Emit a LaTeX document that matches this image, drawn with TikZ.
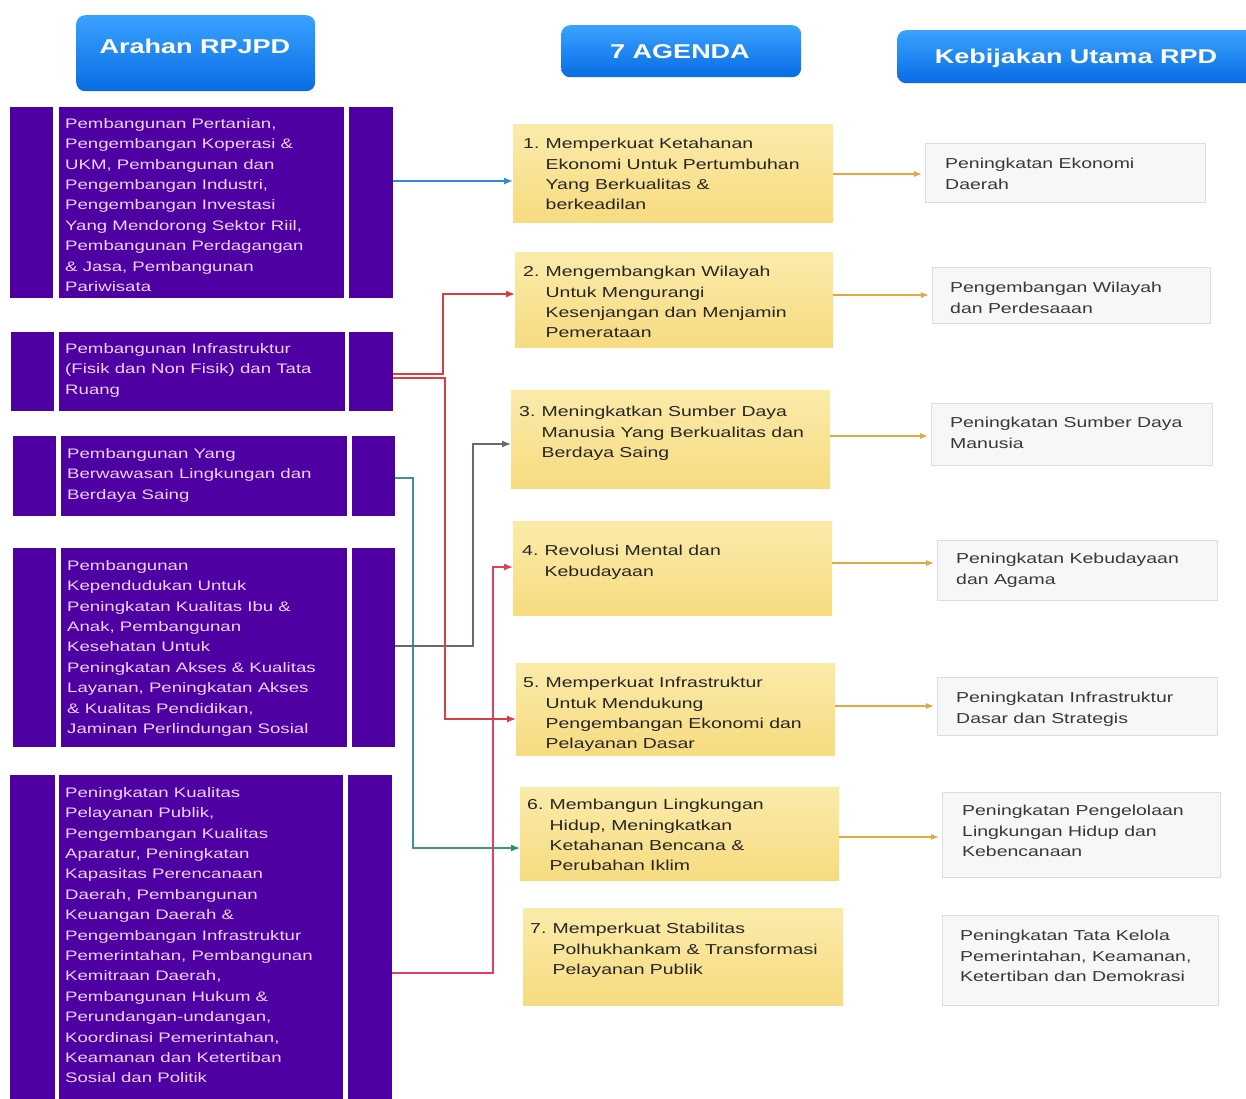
\documentclass[tikz,border=0pt]{standalone}
\usepackage{fontspec}
\setmainfont{Liberation Sans}[FakeStretch=1.35]
\usepackage{xcolor}
\usetikzlibrary{arrows.meta}
\usetikzlibrary{math}
\definecolor{hdtop}{RGB}{58,162,255}
\definecolor{hdbot}{RGB}{8,108,228}
\definecolor{purp}{RGB}{78,0,162}
\definecolor{lav}{RGB}{238,210,255}
\definecolor{agtop}{RGB}{251,235,170}
\definecolor{agbot}{RGB}{246,219,128}
\definecolor{rfill}{RGB}{245,247,249}
\definecolor{rline}{RGB}{218,222,226}
\definecolor{lnblue}{RGB}{45,140,220}
\definecolor{lnred}{RGB}{214,64,64}
\definecolor{lngray}{RGB}{105,105,115}
\definecolor{lnteal}{RGB}{60,150,140}
\definecolor{lngreen}{RGB}{35,150,95}
\definecolor{lnpink}{RGB}{226,62,96}
\definecolor{lnorange}{RGB}{228,168,64}
\newcommand\agno[1]{\makebox[22.5pt][l]{#1}}

\begin{document}
\begin{tikzpicture}[x=1pt,y=-1pt,
  header/.style={anchor=north west,inner sep=0pt,rounded corners=9pt,top color=hdtop,bottom color=hdbot},
  headtext/.style={anchor=base,inner sep=0pt,text=white,font=\fontsize{20}{24}\selectfont\bfseries},
  pbar/.style={anchor=north west,inner sep=0pt,fill=purp},
  ptext/.style={anchor=north west,inner sep=0pt,align=left,text=lav,font=\fontsize{13.8}{20.4}\selectfont},
  agbox/.style={anchor=north west,inner sep=0pt,top color=agtop,bottom color=agbot},
  agtext/.style={anchor=north west,inner sep=0pt,align=left,text=black!85,font=\fontsize{14.4}{20.4}\selectfont},
  rbox/.style={anchor=north west,inner sep=0pt,fill=rfill,draw=rline,line width=0.8pt},
  rtext/.style={anchor=north west,inner sep=0pt,align=left,text=black!78,font=\fontsize{14.4}{20.4}\selectfont},
  conn/.style={line width=1.3pt,-{Latex[length=9pt,width=7pt]}},
  oconn/.style={line width=1.2pt,lnorange,shorten >=3pt,-{Latex[length=8pt,width=6pt]}}]
\tikzmath{
\xt=413; \xr=443; \xg=473; \xp=493;
}
\fill[white] (0,0) rectangle (1246,1098);
\useasboundingbox (0,0) rectangle (1246,1098);

% headers
\node[header,minimum width=239pt,minimum height=76pt] (h1) at (76,15) {};
\node[headtext] (h1t) at (195,53) {Arahan RPJPD};
\node[header,minimum width=240pt,minimum height=52pt] (h2) at (561,25) {};
\node[headtext] (h2t) at (680,58) {7 AGENDA};
\node[header,minimum width=365pt,minimum height=53pt] (h3) at (897,30) {};
\node[headtext] (h3t) at (1076,63) {Kebijakan Utama RPD};

% arahan RPJPD
\node[pbar,minimum width=43pt,minimum height=191pt] (p1l) at (10,107) {};
\node[pbar,minimum width=285pt,minimum height=191pt] (p1) at (59,107) {};
\node[pbar,minimum width=44pt,minimum height=191pt] (p1r) at (349,107) {};
\node[ptext] (p1t) at (65,118) {Pembangunan Pertanian,\\Pengembangan Koperasi \&\\UKM, Pembangunan dan\\Pengembangan Industri,\\Pengembangan Investasi\\Yang Mendorong Sektor Riil,\\Pembangunan Perdagangan\\\& Jasa, Pembangunan\\Pariwisata};

\node[pbar,minimum width=43pt,minimum height=79pt] (p2l) at (11,332) {};
\node[pbar,minimum width=286pt,minimum height=79pt] (p2) at (59,332) {};
\node[pbar,minimum width=44pt,minimum height=79pt] (p2r) at (349,332) {};
\node[ptext] (p2t) at (65,343) {Pembangunan Infrastruktur\\(Fisik dan Non Fisik) dan Tata\\Ruang};

\node[pbar,minimum width=43pt,minimum height=80pt] (p3l) at (13,436) {};
\node[pbar,minimum width=286pt,minimum height=80pt] (p3) at (61,436) {};
\node[pbar,minimum width=43pt,minimum height=80pt] (p3r) at (352,436) {};
\node[ptext] (p3t) at (67,448) {Pembangunan Yang\\Berwawasan Lingkungan dan\\Berdaya Saing};

\node[pbar,minimum width=43pt,minimum height=199pt] (p4l) at (13,548) {};
\node[pbar,minimum width=286pt,minimum height=199pt] (p4) at (61,548) {};
\node[pbar,minimum width=43pt,minimum height=199pt] (p4r) at (352,548) {};
\node[ptext] (p4t) at (67,560) {Pembangunan\\Kependudukan Untuk\\Peningkatan Kualitas Ibu \&\\Anak, Pembangunan\\Kesehatan Untuk\\Peningkatan Akses \& Kualitas\\Layanan, Peningkatan Akses\\\& Kualitas Pendidikan,\\Jaminan Perlindungan Sosial};

\node[pbar,minimum width=45pt,minimum height=330pt] (p5l) at (10,775) {};
\node[pbar,minimum width=284pt,minimum height=330pt] (p5) at (59,775) {};
\node[pbar,minimum width=44pt,minimum height=330pt] (p5r) at (348,775) {};
\node[ptext] (p5t) at (65,787) {Peningkatan Kualitas\\Pelayanan Publik,\\Pengembangan Kualitas\\Aparatur, Peningkatan\\Kapasitas Perencanaan\\Daerah, Pembangunan\\Keuangan Daerah \&\\Pengembangan Infrastruktur\\Pemerintahan, Pembangunan\\Kemitraan Daerah,\\Pembangunan Hukum \&\\Perundangan-undangan,\\Koordinasi Pemerintahan,\\Keamanan dan Ketertiban\\Sosial dan Politik};

% 7 agenda
\node[agbox,minimum width=320pt,minimum height=98pt] (a1) at (513,124) {};
\node[agtext] (a1t) at (523,138) {\agno{1.}Memperkuat Ketahanan\\\agno{}Ekonomi Untuk Pertumbuhan\\\agno{}Yang Berkualitas \&\\\agno{}berkeadilan};
\node[agbox,minimum width=318pt,minimum height=95pt] (a2) at (515,252) {};
\node[agtext] (a2t) at (523,266) {\agno{2.}Mengembangkan Wilayah\\\agno{}Untuk Mengurangi\\\agno{}Kesenjangan dan Menjamin\\\agno{}Pemerataan};
\node[agbox,minimum width=319pt,minimum height=98pt] (a3) at (511,390) {};
\node[agtext] (a3t) at (519,406) {\agno{3.}Meningkatkan Sumber Daya\\\agno{}Manusia Yang Berkualitas dan\\\agno{}Berdaya Saing};
\node[agbox,minimum width=319pt,minimum height=94pt] (a4) at (513,521) {};
\node[agtext] (a4t) at (522,545) {\agno{4.}Revolusi Mental dan\\\agno{}Kebudayaan};
\node[agbox,minimum width=319pt,minimum height=92pt] (a5) at (516,663) {};
\node[agtext] (a5t) at (523,677) {\agno{5.}Memperkuat Infrastruktur\\\agno{}Untuk Mendukung\\\agno{}Pengembangan Ekonomi dan\\\agno{}Pelayanan Dasar};
\node[agbox,minimum width=319pt,minimum height=93pt] (a6) at (520,787) {};
\node[agtext] (a6t) at (527,799) {\agno{6.}Membangun Lingkungan\\\agno{}Hidup, Meningkatkan\\\agno{}Ketahanan Bencana \&\\\agno{}Perubahan Iklim};
\node[agbox,minimum width=320pt,minimum height=97pt] (a7) at (523,908) {};
\node[agtext] (a7t) at (530,923) {\agno{7.}Memperkuat Stabilitas\\\agno{}Polhukhankam \& Transformasi\\\agno{}Pelayanan Publik};

% kebijakan utama
\node[rbox,minimum width=280pt,minimum height=59pt] (r1) at (925,143) {};
\node[rtext] (r1t) at (945,158) {Peningkatan Ekonomi\\Daerah};
\node[rbox,minimum width=278pt,minimum height=56pt] (r2) at (932,267) {};
\node[rtext] (r2t) at (950,282) {Pengembangan Wilayah\\dan Perdesaaan};
\node[rbox,minimum width=281pt,minimum height=62pt] (r3) at (931,403) {};
\node[rtext] (r3t) at (950,417) {Peningkatan Sumber Daya\\Manusia};
\node[rbox,minimum width=280pt,minimum height=60pt] (r4) at (937,540) {};
\node[rtext] (r4t) at (956,553) {Peningkatan Kebudayaan\\dan Agama};
\node[rbox,minimum width=280pt,minimum height=58pt] (r5) at (937,677) {};
\node[rtext] (r5t) at (956,692) {Peningkatan Infrastruktur\\Dasar dan Strategis};
\node[rbox,minimum width=278pt,minimum height=85pt] (r6) at (942,792) {};
\node[rtext] (r6t) at (962,805) {Peningkatan Pengelolaan\\Lingkungan Hidup dan\\Kebencanaan};
\node[rbox,minimum width=276pt,minimum height=90pt] (r7) at (942,915) {};
\node[rtext] (r7t) at (960,930) {Peningkatan Tata Kelola\\Pemerintahan, Keamanan,\\Ketertiban dan Demokrasi};

% connectors
\draw[conn,lnblue] (p1r.east |- 0,181) -- (a1.west |- 0,181);
\draw[conn,lnteal,-{Latex[length=9pt,width=7pt,color=lngreen]}] (p3r.east |- 0,478) -| (\xt,848) -- (a6.west |- 0,848);
\draw[conn,lnred] (p2r.east |- 0,374) -| (\xr,294) -- (a2.west |- 0,294);
\draw[conn,lnred] (p2r.east |- 0,378) -| (\xr+2,719) -- (a5.west |- 0,719);
\draw[conn,lngray] (p4r.east |- 0,646) -| (\xg,444) -- (a3.west |- 0,444);
\draw[conn,lnpink] (p5r.east |- 0,973) -| (\xp,567) -- (a4.west |- 0,567);

\draw[oconn] (a1.east |- 0,174) -- (r1.west |- 0,174);
\draw[oconn] (a2.east |- 0,295) -- (r2.west |- 0,295);
\draw[oconn] (a3.east |- 0,436) -- (r3.west |- 0,436);
\draw[oconn] (a4.east |- 0,563) -- (r4.west |- 0,563);
\draw[oconn] (a5.east |- 0,706) -- (r5.west |- 0,706);
\draw[oconn] (a6.east |- 0,837) -- (r6.west |- 0,837);
\end{tikzpicture}
\end{document}
